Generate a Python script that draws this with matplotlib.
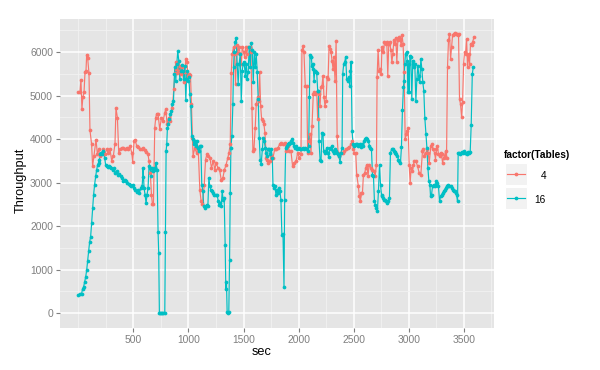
import matplotlib
matplotlib.use('Agg')
import matplotlib.pyplot as plt
from matplotlib.patches import Rectangle
from matplotlib.lines import Line2D

# ---- data (Tables = 4) ----
sec_4 = [0, 15, 24, 33, 42, 52, 61, 70, 76, 85, 97, 106, 121, 130, 142, 161, 173, 185, 197, 212,
         227, 242, 258, 273, 288, 303, 318, 333, 342, 355, 367, 379, 394, 409, 424, 439, 455, 470, 485, 494,
         506, 518, 530, 545, 561, 576,
         588, 603, 618, 633, 642, 654, 664, 673, 682, 694, 703, 712, 724, 739, 755, 770, 785, 794, 806, 821,
         836, 854, 867, 876, 885, 891, 900, 909, 915, 927, 936, 945, 957, 967, 976, 985, 997, 1006, 1018, 1027,
         1036, 1042, 1057, 1073, 1088, 1103, 1115, 1127, 1143, 1155, 1167, 1179, 1194, 1209, 1224, 1240,
         1251, 1267, 1282, 1297, 1312, 1327, 1342, 1357, 1367, 1379, 1388, 1397, 1409, 1418, 1427, 1439,
         1448, 1458, 1470, 1479, 1488, 1500, 1509, 1518, 1530, 1539, 1555, 1567, 1576, 1585, 1594, 1606,
         1615, 1627, 1637, 1646, 1655, 1664, 1676, 1685, 1694, 1706, 1715, 1724, 1737, 1752, 1767, 1782,
         1797, 1812, 1827, 1843, 1858, 1873, 1888, 1903,
         1915, 1930, 1945, 1960, 1976, 1991, 2006, 2021, 2030, 2039, 2048, 2060, 2073, 2082, 2091, 2103,
         2112, 2121, 2133, 2142, 2152, 2164, 2173, 2182, 2194, 2203, 2212, 2221, 2230, 2239, 2249, 2258,
         2267, 2276, 2285, 2294, 2303, 2312, 2321, 2330, 2340, 2349, 2358, 2370, 2385, 2400, 2415, 2430,
         2445, 2461, 2476, 2485, 2497, 2506, 2518, 2527, 2542, 2551, 2560, 2570,
         2579, 2588, 2600, 2609, 2618, 2630, 2639, 2654, 2670, 2685, 2694, 2706, 2712, 2721, 2730, 2739,
         2749, 2755, 2761, 2770, 2779, 2791, 2800, 2809, 2818, 2827, 2837, 2846, 2855, 2864, 2873, 2882,
         2891, 2900, 2913, 2921, 2930, 2939, 2948, 2957, 2967, 2976, 2985, 2994, 3003, 3012, 3021, 3033,
         3042, 3051, 3064, 3079, 3094, 3109, 3124, 3133, 3142, 3155, 3167, 3176, 3185, 3200, 3209, 3221,
         3234,
         3242, 3251, 3260, 3269, 3279, 3288, 3297, 3306, 3315, 3324, 3333, 3342, 3351, 3360, 3369, 3379,
         3388, 3397, 3406, 3415, 3424, 3433, 3442, 3451, 3460, 3469, 3479, 3488, 3497, 3506, 3515, 3524,
         3533, 3542, 3551, 3560, 3569, 3579, 3591]
thr_4 = [5073, 5073, 5366, 4703, 4973, 5073, 5536, 5574, 5937, 5860, 5513, 4202, 3878, 3377, 3608, 3986, 3662, 3762, 3608, 3685,
         3762, 3662, 3762, 3685, 3762, 3508, 3608, 3893, 4711, 4495, 3685, 3762, 3801, 3801, 3762, 3801, 3778, 3840, 3685, 3477,
         3955, 3971, 3840, 3816, 3778, 3762,
         3801, 3739, 3709, 3647, 3493, 3223, 2722, 2506, 2506, 4264, 4495, 4587, 4572, 4225, 4495, 4418, 4611, 4688, 4341, 4495,
         4418, 4726, 5150, 5513, 5767, 5613, 5513, 5767, 5574, 5690, 5497, 5651, 5304, 5536, 5844, 5767, 5459, 5497, 5482, 4803,
         4032, 3608, 3801, 3685, 3816, 2837, 2567, 2506, 2953, 3531, 3647, 3608, 3570, 3339, 3493, 3300,
         3454, 3339, 3300, 3069, 3107, 3300, 3416, 3570, 3685, 3878, 5513, 5960, 6114, 5960, 5266, 6153,
         5975, 6114, 5960, 5729, 6114, 5998, 5883, 6114, 5960, 6114, 6114, 5998, 4726, 3724, 3762, 4264,
         4803, 4958, 4880, 5536, 4765, 4456, 4418, 4341, 4148, 3570, 3531, 3454, 3493, 3608, 3570, 3762,
         3762, 3801, 3878, 3917, 3893, 3917, 3724, 3840,
         3724, 3724, 3377, 3454, 3493, 3685, 3570, 3647, 6037, 6130, 5998, 5227, 5227, 3685, 3955, 4110,
         3685, 4302, 5035, 5073, 5035, 5073, 4456, 5035, 4765, 5189, 5227, 5459, 4958, 4765, 4880, 5420,
         5382, 6130, 6075, 5998, 5806, 5613, 5883, 5343, 6253, 4071, 3685, 3608, 3685, 3685, 3724, 3762,
         3801, 3816, 3878, 3955, 3762, 3685, 3685, 3184, 2914, 2683, 2567, 2760,
         2760, 3184, 3223, 3339, 3416, 3146, 3416, 3339, 3300, 3261, 3146, 3416, 5420, 6052, 5574, 5613,
         5497, 6037, 6114, 5998, 6230, 6176, 6230, 5459, 6191, 6230, 6037, 5767, 5960, 6268, 6191, 6330,
         5767, 6268, 6345, 6307, 6153, 6384, 6176, 5536, 3994, 4110, 4187, 4264, 3416, 2991, 3339, 3261,
         3416, 3493, 3493, 3377, 3223, 3184, 3724, 3762, 3608, 3685, 3762, 3685, 3454, 3840, 3878, 3762,
         3685,
         3531, 3762, 3840, 3647, 3608, 3685, 3647, 3454, 3570, 3608, 3724, 3570, 5651, 6268, 6422, 5844,
         6114, 6384, 6422, 6438, 6422, 6407, 6384, 6422, 4919, 4803, 4510, 4842, 5729, 5998, 5960, 6307,
         5651, 5960, 5729, 6191, 6153, 6230, 6345]

# ---- data (Tables = 16) ----
sec_16 = [0, 15, 30, 39, 48, 58, 67, 76, 85, 94, 103, 112, 121, 130, 139, 148, 158, 167, 176, 185,
          191, 200, 209, 218, 227, 239, 248, 258, 267, 276, 288, 300, 312, 324, 336, 348, 361, 373, 385, 397,
          409, 421, 433, 445, 458, 470, 482, 494, 506, 518, 530, 542, 554, 567, 579, 585,
          588, 597, 606, 615, 624, 633, 642, 652, 661, 670, 679, 688, 697, 706, 715, 724, 730, 736, 745, 755,
          764, 773, 785, 791, 797, 803, 809, 818, 827, 836, 845, 854, 864, 873, 879, 885, 894, 903, 912, 921,
          930, 939, 948, 957, 967, 976, 985, 994, 1003, 1012, 1021, 1030, 1039, 1049, 1058, 1067, 1076, 1085,
          1094, 1103, 1112, 1121, 1130, 1139, 1148, 1157, 1167, 1176, 1185, 1194, 1203, 1212, 1224, 1236, 1249,
          1261, 1270, 1279, 1288, 1297, 1306, 1315, 1324, 1333, 1339, 1345, 1351, 1361, 1366, 1373, 1379,
          1385, 1394, 1403, 1409, 1415, 1424, 1433, 1442, 1451, 1460, 1470, 1479, 1488, 1497, 1506, 1515,
          1524, 1533, 1542, 1551, 1561, 1570, 1579, 1588, 1597, 1606, 1615, 1624, 1633, 1642, 1651, 1660,
          1670, 1679, 1688, 1697, 1706, 1715, 1724, 1733, 1742, 1752, 1761, 1767, 1776, 1785, 1794, 1803,
          1812, 1821, 1830, 1839, 1848, 1858, 1867, 1873, 1882, 1891, 1900, 1909,
          1915, 1924, 1933, 1942, 1951, 1960, 1970, 1979, 1988, 2000, 2012, 2024, 2036, 2048, 2060, 2073,
          2082, 2091, 2097, 2103, 2109, 2115, 2121, 2127, 2133, 2140, 2146, 2152, 2158, 2164, 2173, 2179,
          2185, 2194, 2203, 2212, 2221, 2227, 2236, 2246, 2255, 2264, 2273, 2282, 2291, 2300, 2309, 2318,
          2327, 2336, 2345, 2355, 2364, 2376, 2385, 2394, 2400, 2409, 2418, 2427, 2436, 2445, 2455, 2464,
          2470, 2476, 2485, 2494, 2503, 2512, 2521, 2530, 2540, 2549, 2558, 2567,
          2579, 2588, 2597, 2606, 2615, 2624, 2633, 2643, 2652, 2661, 2670, 2679, 2688, 2697, 2706, 2715,
          2724, 2734, 2743, 2752, 2761, 2770, 2779, 2788, 2797, 2806, 2815, 2824, 2833, 2843, 2852, 2861,
          2870, 2879, 2888, 2897, 2906, 2915, 2924, 2933, 2942, 2951, 2957, 2963, 2970, 2979, 2985, 2991,
          2997, 3003, 3009, 3018, 3027, 3036, 3045, 3054, 3064, 3073, 3082, 3091, 3100, 3109, 3118, 3127,
          3136, 3145, 3155, 3164, 3173, 3182, 3191, 3197, 3206, 3215, 3224, 3233,
          3242, 3251, 3260, 3269, 3279, 3288, 3297, 3306, 3315, 3324, 3333, 3342, 3351, 3360, 3369, 3379,
          3388, 3397, 3406, 3415, 3424, 3433, 3442, 3448, 3457, 3466, 3476, 3485, 3494, 3503, 3512, 3521,
          3530, 3539, 3548, 3557, 3566, 3576, 3585]
thr_16 = [424, 447, 447, 563, 601, 717, 833, 987, 1195, 1426, 1642, 1758, 2066, 2413, 2722, 2953, 3146, 3300, 3416, 3454,
          3531, 3647, 3685, 3647, 3724, 3570, 3416, 3377, 3362, 3377, 3354, 3339, 3300, 3339, 3223, 3261, 3184, 3200, 3146, 3107,
          3045, 3061, 3030, 2991, 2968, 2938, 2914, 2953, 2876, 2837, 2783, 2837, 2760, 2876, 2914, 3123,
          3339, 2876, 2722, 2529, 2722, 2876, 3377, 3339, 3146, 3339, 3261, 3300, 3339, 3454, 3300, 1874, 1372, 0, 0, 0,
          0, 0, 0, 1874, 3724, 3893, 4264, 4341, 4456, 4572, 4649, 4803, 4880, 5497, 5651, 5343, 5729, 6022, 5806, 5382,
          5574, 5705, 5574, 5382, 5690, 4896, 5574, 5343, 5420, 5035, 4765, 4071, 3994, 3878, 3955, 3840, 3955, 3801,
          3724, 3840, 3840, 2953, 2799, 2452, 2413, 2452, 2490, 2452, 3107, 2914, 2837, 2799, 2760, 2722, 2722,
          2722, 2567, 2490, 2529, 2452, 2799, 2606, 2645, 1565, 563, 717, 23, 0, 23, 1218, 2760,
          3801, 4071, 4803, 5651, 5998, 6230, 6330, 5729, 5266, 5729, 5960, 4880, 5574, 5729, 5767, 5459,
          5729, 5382, 5536, 6114, 5651, 6207, 6037, 5304, 5998, 5651, 5960, 5536, 4919, 4032, 3531, 3431,
          3762, 4032, 3955, 3801, 3685, 3608, 3762, 3762, 3647, 3762, 3570, 2938, 2876, 2914, 2722, 2837,
          2760, 2876, 2799, 2606, 1796, 1812, 601, 2606, 3801, 3840, 3878, 3917,
          3878, 3917, 3955, 3994, 3917, 3840, 3801, 3840, 3762, 3801, 3762, 3762, 3801, 3762, 3786, 3762,
          3724, 3840, 4958, 5944, 5898, 5883, 5690, 5729, 5613, 5343, 5574, 5574, 5536, 5513, 5112, 5112,
          3955, 3531, 3493, 4148, 4110, 3724, 3685, 3724, 3801, 3685, 3585, 3801, 3762, 3840, 3724, 3685,
          3762, 3724, 3685, 3647, 3608, 3477, 3685, 3801, 5497, 5729, 5767, 5898, 5382, 5343, 5420, 5227,
          5574, 5767, 4187, 3878, 3840, 3863, 3893, 3878, 3840, 3863, 3893, 3816,
          3878, 3840, 3955, 3994, 4032, 3994, 3955, 3840, 3801, 3762, 3184, 3146, 2567, 2490, 2413, 2352,
          2799, 3416, 2953, 2722, 2683, 2645, 2606, 2606, 2567, 2529, 2567, 2645, 3685, 3762, 3762, 3724,
          3709, 3685, 3647, 3608, 3531, 3493, 3454, 3816, 4665, 5189, 5343, 5729, 5960, 5998, 5806, 5073,
          5729, 5073, 5921, 5883, 4919, 5806, 5651, 5729, 4880, 5382, 5690, 5459, 5304, 5844, 5613, 5304,
          5112, 4495, 4110, 3801, 3339, 3030, 2953, 2683, 2722, 2914, 2953, 2914,
          2953, 3030, 2991, 2914, 2567, 2683, 2722, 2760, 2799, 2837, 2876, 2914, 2953, 2914, 2914, 2914,
          2876, 2837, 2799, 2799, 2760, 2722, 2567, 3685, 3685, 3662, 3685, 3701, 3685, 3724, 3685, 3685,
          3662, 3709, 3685, 3709, 4325, 5497, 5651]

tables = ['4', '16']
series_colors = ['#F8766D', '#00BFC4']
x_major = [500, 1000, 1500, 2000, 2500, 3000, 3500]
x_minor = [0, 250, 750, 1250, 1750, 2250, 2750, 3250, 3750]
y_major = [0, 1000, 2000, 3000, 4000, 5000, 6000]
y_minor = [500, 1500, 2500, 3500, 4500, 5500, 6500]

plt.rcParams['font.family'] = ['Liberation Sans', 'DejaVu Sans']

W, H = 600, 370
fig = plt.figure(figsize=(6, 3.7), dpi=100)
fig.patch.set_facecolor('white')


def fx(x):
    return x / W


def fy(y):
    return 1 - y / H


L, R, T, B = 60, 494, 19, 328
ax = fig.add_axes([L / W, 1 - B / H, (R - L) / W, (B - T) / H])
ax.set_facecolor('#E5E5E5')
ax.set_xlim(-166, 3773)
ax.set_ylim(-340, 6760)
for s in ax.spines.values():
    s.set_visible(False)
ax.set_xticks(x_major)
ax.set_xticks(x_minor, minor=True)
ax.set_yticks(y_major)
ax.set_yticks(y_minor, minor=True)
ax.set_xticklabels([str(v) for v in x_major])
ax.set_yticklabels([str(v) for v in y_major])
ax.grid(which='minor', color='#F2F2F2', lw=0.6)
ax.grid(which='major', color='white', lw=1.1)
ax.set_axisbelow(True)
ax.tick_params(which='minor', length=0)
ax.tick_params(which='major', length=3, width=0.8, color='#7F7F7F',
               labelcolor='#7F7F7F', labelsize=7.4, pad=2)

secs = [sec_4, sec_16]
thrs = [thr_4, thr_16]
for i in range(2):
    ax.plot(secs[i], thrs[i], color=series_colors[i], lw=0.85, zorder=2 + i)
for i in range(2):
    ax.plot(secs[i], thrs[i], 'o', color=series_colors[i], ms=2.7, mew=0, zorder=4 + i)

# axis titles
fig.text(fx(262), fy(352), 'sec', fontsize=9.2, ha='center', va='center')
fig.text(fx(20.5), fy(180), 'Throughput', fontsize=9.2, ha='center', va='center',
         rotation=90)

# legend
fig.text(fx(504), fy(155), 'factor(Tables)', fontsize=7.3, fontweight='bold',
         ha='left', va='center')
for i, lab in enumerate(tables):
    y0 = 163 + i * 24
    fig.patches.append(Rectangle((fx(505), fy(y0 + 22)), 22 / W, 22 / H,
                                 transform=fig.transFigure, facecolor='#F2F2F2',
                                 edgecolor='white', lw=0.8))
    yc = fy(y0 + 11)
    fig.lines.append(Line2D([fx(507), fx(525)], [yc, yc], transform=fig.transFigure,
                            color=series_colors[i], lw=0.85))
    fig.lines.append(Line2D([fx(516)], [yc], transform=fig.transFigure, marker='o',
                            ms=2.7, mew=0, color=series_colors[i]))
    fig.text(fx(546), fy(y0 + 13), lab, fontsize=7.3, ha='right', va='center')

fig.savefig('out.png', dpi=100)
